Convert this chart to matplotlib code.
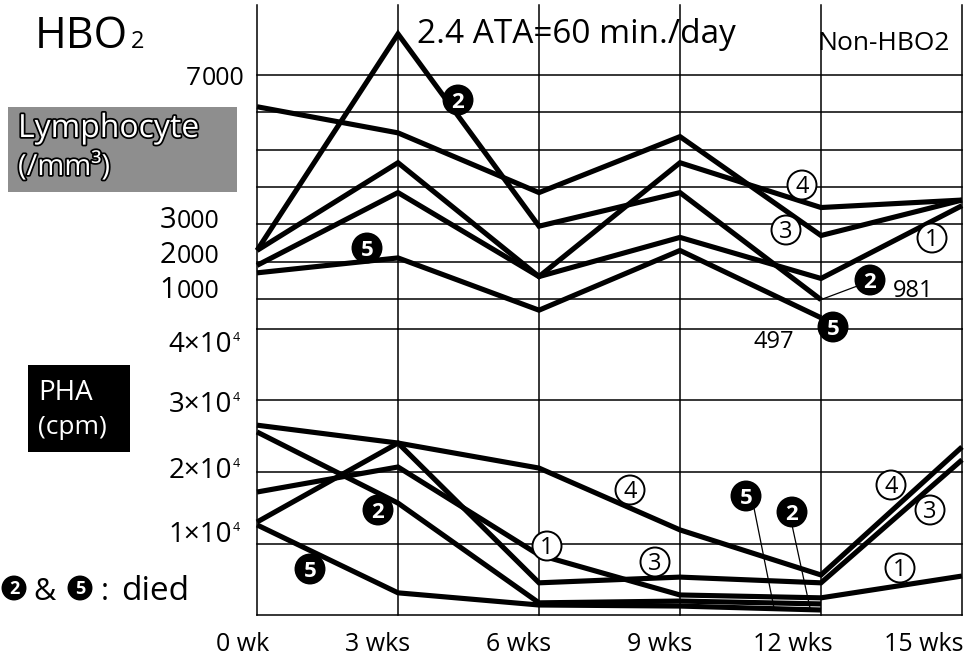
import matplotlib
matplotlib.use('Agg')
import matplotlib.pyplot as plt
from matplotlib.patches import Rectangle, Ellipse
from matplotlib.lines import Line2D
import matplotlib.patheffects as pe
from matplotlib.transforms import ScaledTranslation

plt.rcParams['font.family'] = ['Open Sans', 'DejaVu Sans']

W, H = 968, 662

# ---------------- data ----------------
weeks = [0, 3, 6, 9, 12, 15]
week_labels = ['0 wk', '3 wks', '6 wks', '9 wks', '12 wks', '15 wks']

# Lymphocyte (/mm3), patients 1..5 (2 and 5 died after 12 wks)
lym_1 = [1900, 3850, 1600, 2650, 1550, 3500]
lym_2 = [2300, 8100, 2950, 3850, 981]
lym_3 = [6150, 5450, 3850, 5350, 2700, 3650]
lym_4 = [2300, 4650, 1600, 4650, 3450, 3650]
lym_5 = [1700, 2100, 700, 2300, 497]

# PHA response (cpm)
pha_1 = [17200, 20700, 8400, 2800, 2400, 5450]
pha_2 = [25600, 15650, 1700, 1950, 1550]
pha_3 = [13000, 24050, 4500, 5300, 4500, 21700]
pha_4 = [26550, 24050, 20550, 11900, 5600, 23500]
pha_5 = [12600, 3100, 1400, 1250, 700]

lym_tick_labels = ['7000', '3000', '2000', '1000']
lym_grid = [1000, 2000, 3000, 4000, 5000, 6000, 7000]
pha_tick_mant = ['4', '3', '2', '1']
pha_grid = [0, 10000, 20000, 30000, 40000]

# ---------------- figure ----------------
fig = plt.figure(figsize=(W / 100, H / 100), dpi=100)


def fx(px):
    return px / W


def fy(py):
    return 1 - py / H


def ftext(px, py, s, **kw):
    kw.setdefault('va', 'baseline')
    return fig.text(fx(px), fy(py), s, **kw)


L, R = 257, 962
TOP, MID, BOT = 5, 329, 615

axb = fig.add_axes([fx(L), fy(BOT), (R - L) / W, (BOT - MID) / H])
axt = fig.add_axes([fx(L), fy(MID), (R - L) / W, (MID - TOP) / H])
for ax in (axb, axt):
    ax.patch.set_visible(False)
    for s in ax.spines.values():
        s.set_visible(False)
    ax.set_xlim(0, 15)
    ax.set_yticks([])
    ax.tick_params(length=0)

axt.set_ylim(196, 8875)
axb.set_ylim(0, 40000)
axt.set_xticks([])

grid_kw = dict(color='black', lw=1.1, zorder=1, clip_on=False)
for v in lym_grid:
    axt.axhline(v, **grid_kw)
for v in pha_grid:
    axb.axhline(v, **grid_kw)
for w in weeks:
    axt.axvline(w, **grid_kw)
    axb.axvline(w, **grid_kw)

line_kw = dict(color='black', lw=3.7, solid_joinstyle='miter',
               solid_capstyle='butt', zorder=3, clip_on=False)
for ys in (lym_1, lym_2, lym_3, lym_4, lym_5):
    axt.plot(weeks[:len(ys)], ys, **line_kw)
for ys in (pha_1, pha_2, pha_3, pha_4, pha_5):
    axb.plot(weeks[:len(ys)], ys, **line_kw)

# x tick labels
axb.set_xticks(weeks)
axb.set_xticklabels(week_labels, fontsize=18)
axb.tick_params(axis='x', length=0, pad=12)
labs = axb.get_xticklabels()
for i, lab in enumerate(labs):
    lab.set_ha('right')
    dx = 12 if i < len(labs) - 1 else 1
    lab.set_transform(lab.get_transform() +
                      ScaledTranslation(dx / 100, 0, fig.dpi_scale_trans))


# ---------------- circled number tags ----------------
def tag(px, py, s, filled, d=29, fs=None):
    e = Ellipse((fx(px), fy(py)), d / W, d / H, transform=fig.transFigure,
                fc='black' if filled else 'white', ec='black', lw=1.4,
                zorder=10)
    fig.add_artist(e)
    if fs is None:
        fs = 16 if filled else 17
    em = fs * 100 / 72
    ftext(px, py + 0.357 * em, s, ha='center', fontsize=fs,
          color='white' if filled else 'black',
          fontweight='bold' if filled else 'normal', zorder=11)


def pointer(p0, p1):
    fig.add_artist(Line2D([fx(p0[0]), fx(p1[0])], [fy(p0[1]), fy(p1[1])],
                          transform=fig.transFigure, color='black', lw=0.9,
                          zorder=9))


# lymphocyte panel tags
tag(458, 100, '2', True)
tag(367, 248, '5', True)
tag(802, 185, '4', False)
tag(786, 230, '3', False)
tag(932, 238, '1', False)
pointer((820, 300), (860, 285))
tag(870, 280, '2', True)
ftext(893, 297, '981', fontsize=17)
tag(833, 327, '5', True)
ftext(754, 348, '497', fontsize=17)

# PHA panel tags
tag(378, 510, '2', True)
tag(310, 569, '5', True)
tag(547, 546, '1', False)
tag(630, 490, '4', False)
tag(655, 562, '3', False)
pointer((754, 508), (774, 608))
pointer((792, 525), (810, 608))
tag(746, 496, '5', True)
tag(792, 512, '2', True)
tag(891, 485, '4', False)
tag(930, 510, '3', False)
tag(900, 568, '1', False)

# ---------------- titles / boxes ----------------
ftext(35, 48, 'HBO', fontsize=31)
ftext(131, 48, '2', fontsize=17)
ftext(417, 43, '2.4 ATA=60 min./day', fontsize=24)
ftext(817, 50, 'Non-HBO2', fontsize=19)

fig.add_artist(Rectangle((fx(8), fy(192)), (237 - 8) / W, (192 - 107) / H,
                         transform=fig.transFigure, fc='#8e8e8e', ec='none',
                         zorder=2))
for txt, base, fs in (('Lymphocyte', 137, 23), ('(/mm³)', 175, 21)):
    t = ftext(18, base, txt, fontsize=fs, color='white', zorder=3)
    t.set_path_effects([pe.withStroke(linewidth=2.5, foreground='black')])

fig.add_artist(Rectangle((fx(28), fy(452)), (130 - 28) / W, (452 - 365) / H,
                         transform=fig.transFigure, fc='black', ec='none',
                         zorder=2))
ftext(38, 400, 'PHA', fontsize=20, color='white', zorder=3)
ftext(38, 434, '(cpm)', fontsize=19, color='white', zorder=3)

# y labels (lymphocyte)
for s, sx, base in zip(lym_tick_labels, [201, 176, 176, 176],
                       [85, 228, 263, 298]):
    big, small = (19, 18) if s == '7000' else (21, 18)
    ftext(sx, base, s[0], ha='right', fontsize=big)
    ftext(sx + 1, base, s[1:], ha='left', fontsize=small)

# y labels (PHA)
for m, base in zip(pha_tick_mant, [352, 412, 478, 542]):
    ftext(232, base, m + '×10', ha='right', fontsize=20)
    ftext(233, base - 11, '4', ha='left', fontsize=9)

# died legend
tag(14, 588, '2', True, d=23, fs=13)
ftext(33, 600, '&', fontsize=22)
tag(80, 588, '5', True, d=23, fs=13)
ftext(101, 600, ':', fontsize=22)
ftext(121, 600, 'died', fontsize=24)

fig.savefig('out.png', dpi=100)
